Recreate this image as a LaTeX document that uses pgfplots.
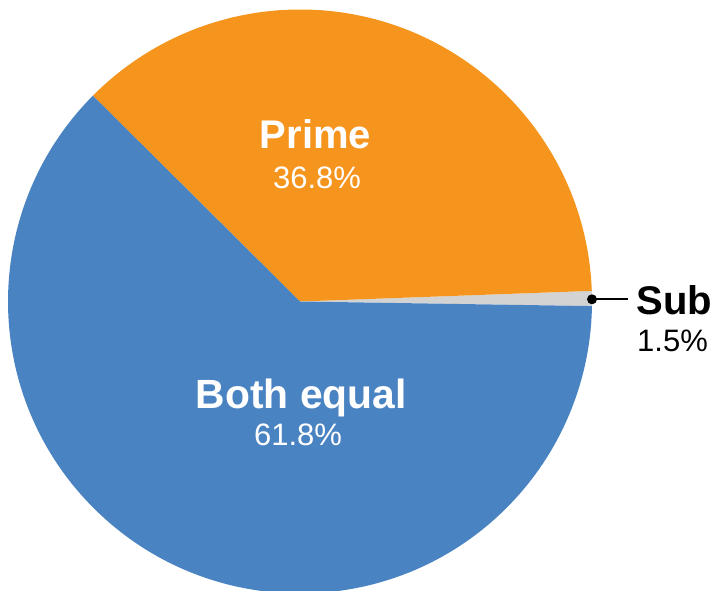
\documentclass[border=0pt]{standalone}
\usepackage{pgfplots}
\pgfplotsset{compat=1.18}
\usepackage{pgfplotstable}
\usepackage{fontspec}
\setmainfont{Liberation Sans}
\definecolor{cblue}{RGB}{74,131,194}
\definecolor{corange}{RGB}{246,149,30}
\definecolor{cgrey}{RGB}{211,211,211}

\pgfplotstableread{
name share
Sub 0.83
Prime 36.97
Both 62.20
}\piedata

\begin{document}
\begin{tikzpicture}
\useasboundingbox (0,0) rectangle (713pt,590pt);
\pgfplotstablegetelem{0}{share}\of\piedata \edef\vSub{\pgfplotsretval}
\pgfplotstablegetelem{1}{share}\of\piedata \edef\vPrime{\pgfplotsretval}
\pgfplotstablegetelem{2}{share}\of\piedata \edef\vBoth{\pgfplotsretval}
\pgfmathsetmacro\aA{-0.9}
\pgfmathsetmacro\aB{\aA+3.6*\vSub}
\pgfmathsetmacro\aC{\aB+3.6*\vPrime}
\pgfmathsetmacro\aD{\aC+3.6*\vBoth}
\begin{axis}[hide axis, scale only axis, width=713pt, height=590pt,
  xmin=0, xmax=713, ymin=0, ymax=590, clip=true]
\fill[cgrey] (axis cs:300,288.5) -- ([shift={(\aA:292pt)}]axis cs:300,288.5) arc[start angle=\aA, end angle=\aB, radius=292pt] -- cycle;
\fill[corange] (axis cs:300,288.5) -- ([shift={(\aB:292pt)}]axis cs:300,288.5) arc[start angle=\aB, end angle=\aC, radius=292pt] -- cycle;
\fill[cblue] (axis cs:300,288.5) -- ([shift={(\aC:292pt)}]axis cs:300,288.5) arc[start angle=\aC, end angle=\aD, radius=292pt] -- cycle;
\node[anchor=base, text=white, inner sep=0pt, font=\fontsize{40}{48}\selectfont\bfseries] at (axis cs:315.5,441.7) {Prime};
\node[anchor=base, text=white, inner sep=0pt, font=\fontsize{31}{37}\selectfont] at (axis cs:317,401.7) {36.8\%};
\node[anchor=base, text=white, inner sep=0pt, font=\fontsize{40.8}{48}\selectfont\bfseries] at (axis cs:301.3,181.7) {Both equal};
\node[anchor=base, text=white, inner sep=0pt, font=\fontsize{31}{37}\selectfont] at (axis cs:298,144) {61.8\%};
\draw[line width=2.4pt] (axis cs:592,290.7) -- (axis cs:628,290.7);
\fill (axis cs:592,290.7) circle[radius=5pt];
\node[anchor=base west, text=black, inner sep=0pt, font=\fontsize{40}{48}\selectfont\bfseries] at (axis cs:636.5,275) {Sub};
\node[anchor=base west, text=black, inner sep=0pt, font=\fontsize{31}{37}\selectfont] at (axis cs:637,238.3) {1.5\%};
\end{axis}
\end{tikzpicture}
\end{document}
